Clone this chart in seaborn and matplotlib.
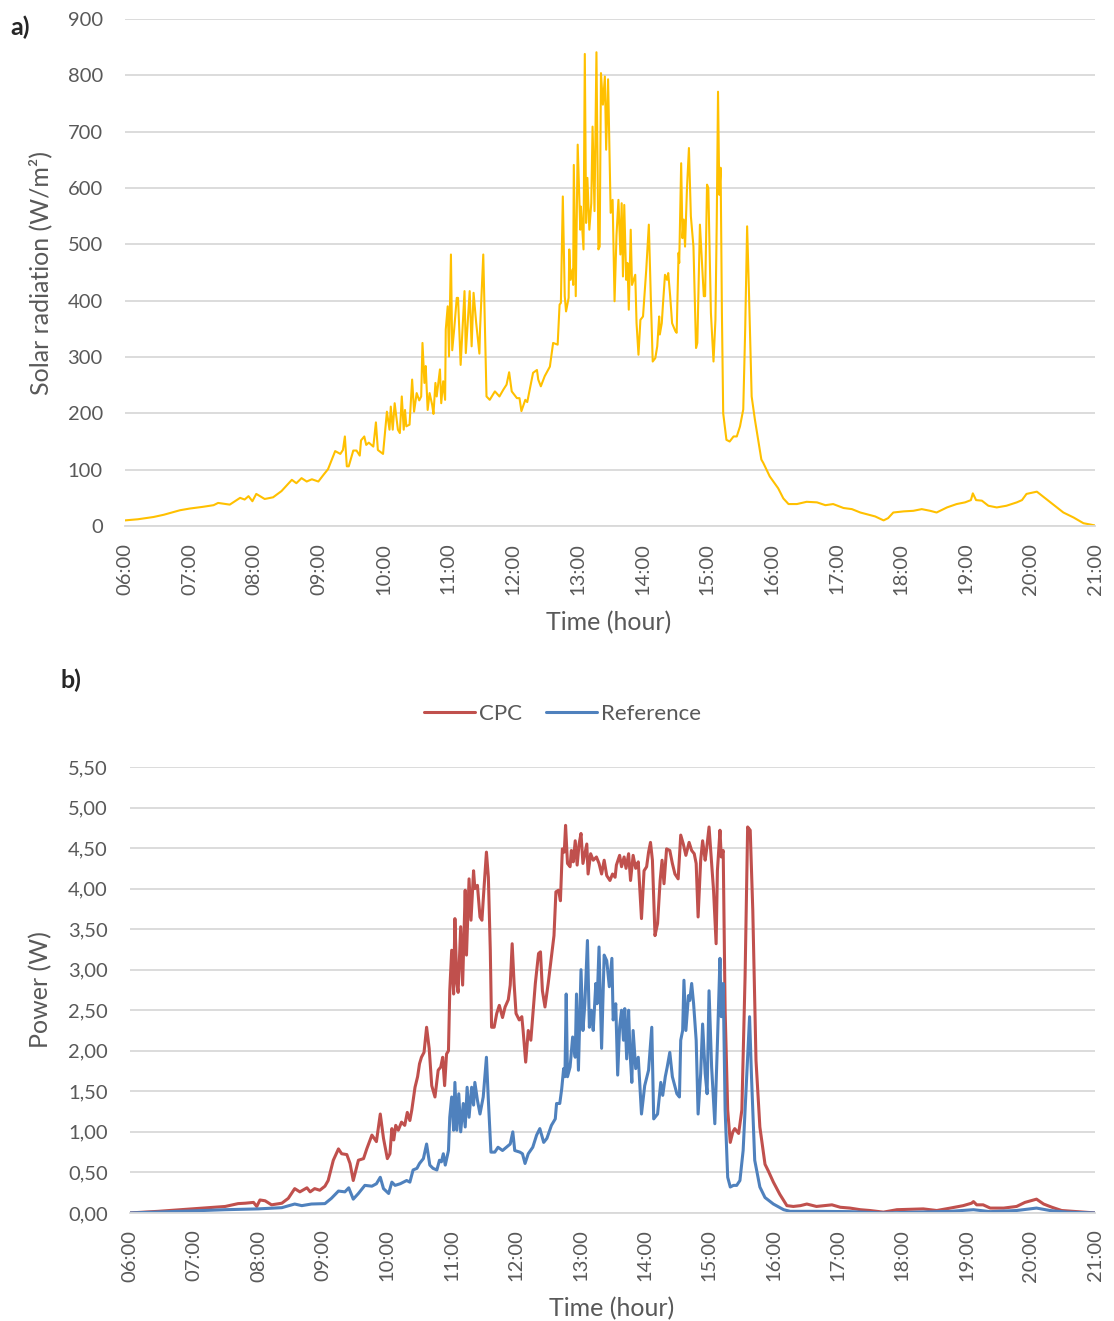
import numpy as np
import pandas as pd
import matplotlib
matplotlib.use("Agg")
import matplotlib.pyplot as plt
from matplotlib.ticker import FuncFormatter, MultipleLocator
import seaborn as sns

# a) solar radiation, hours since midnight vs W/m2
top_hours = [
    6.00, 6.20, 6.44, 6.60, 6.85, 7.00, 7.20, 7.37, 7.44, 7.62, 7.78, 7.85, 7.91, 7.97,
    8.03, 8.16, 8.29, 8.42, 8.58, 8.65, 8.73, 8.81, 8.89, 8.99, 9.07, 9.14, 9.25, 9.33,
    9.37, 9.40, 9.43, 9.46, 9.53, 9.58, 9.63, 9.65, 9.70, 9.73, 9.77, 9.84, 9.88, 9.91,
    9.99, 10.05, 10.09, 10.11, 10.14, 10.17, 10.22, 10.25, 10.28, 10.31, 10.33, 10.35,
    10.40, 10.44, 10.47, 10.51, 10.55, 10.58, 10.60, 10.63, 10.65, 10.68, 10.71, 10.75,
    10.77, 10.80, 10.82, 10.87, 10.89, 10.92, 10.95, 10.96, 10.99, 11.01, 11.04, 11.06,
    11.09, 11.13, 11.15, 11.19, 11.25, 11.27, 11.33, 11.36, 11.39, 11.43, 11.48, 11.49,
    11.54, 11.59, 11.64, 11.72, 11.79, 11.85, 11.90, 11.94, 11.98, 12.06, 12.10, 12.13,
    12.19, 12.22, 12.31, 12.37, 12.39, 12.43, 12.49, 12.57, 12.62, 12.69, 12.72, 12.74,
    12.77, 12.80, 12.82, 12.86, 12.87, 12.89, 12.92, 12.93, 12.94, 12.97, 13.00, 13.04,
    13.05, 13.09, 13.11, 13.13, 13.15, 13.18, 13.21, 13.23, 13.26, 13.29, 13.32, 13.34,
    13.36, 13.39, 13.42, 13.44, 13.47, 13.51, 13.54, 13.57, 13.60, 13.63, 13.66, 13.68,
    13.70, 13.72, 13.75, 13.77, 13.79, 13.82, 13.84, 13.89, 13.91, 13.94, 13.97, 14.01,
    14.06, 14.10, 14.13, 14.16, 14.20, 14.23, 14.26, 14.27, 14.30, 14.32, 14.35, 14.38,
    14.40, 14.43, 14.46, 14.51, 14.53, 14.56, 14.57, 14.60, 14.62, 14.64, 14.66, 14.69,
    14.72, 14.75, 14.79, 14.83, 14.85, 14.89, 14.92, 14.95, 14.97, 15.00, 15.02, 15.06,
    15.10, 15.13, 15.15, 15.17, 15.19, 15.21, 15.23, 15.25, 15.30, 15.35, 15.41, 15.46,
    15.51, 15.56, 15.59, 15.62, 15.65, 15.69, 15.74, 15.79, 15.84, 15.87, 15.97, 16.10,
    16.18, 16.26, 16.39, 16.54, 16.70, 16.83, 16.95, 17.11, 17.24, 17.37, 17.47, 17.60,
    17.73, 17.80, 17.88, 18.04, 18.19, 18.32, 18.45, 18.55, 18.71, 18.86, 18.99, 19.08,
    19.11, 19.16, 19.25, 19.35, 19.48, 19.63, 19.79, 19.87, 19.94, 20.10, 20.20, 20.30,
    20.38, 20.51, 20.67, 20.82, 21.00,
]
solar_wm2 = [
    10, 12, 16, 20, 28, 31, 34, 37, 41, 38, 50, 47, 53, 44,
    57, 48, 51, 62, 82, 76, 85, 79, 83, 79, 91, 101, 133, 128,
    135, 159, 106, 106, 134, 134, 125, 152, 159, 144, 148, 141, 184, 135,
    128, 203, 171, 212, 171, 218, 171, 165, 230, 171, 206, 177,
    180, 260, 203, 236, 223, 230, 325, 254, 284, 206, 236, 215,
    199, 254, 230, 278, 218, 257, 224, 349, 390, 301, 482, 312,
    349, 405, 405, 286, 417, 307, 417, 319, 414, 361, 306, 349,
    482, 230, 224, 239, 230, 242, 251, 273, 239, 227, 227, 204,
    224, 220, 272, 277, 260, 248, 266, 283, 325, 322, 393, 396,
    585, 408, 381, 405, 491, 437, 455, 428, 641, 408, 677, 526,
    567, 491, 838, 538, 618, 526, 573, 709, 559, 841, 491, 496,
    804, 748, 798, 668, 793, 556, 579, 399, 516, 579, 482, 573,
    443, 570, 437, 467, 384, 526, 428, 446, 360, 304, 366, 372,
    455, 535, 408, 292, 298, 319, 372, 340, 360, 396, 446, 437,
    449, 408, 360, 346, 343, 485, 467, 644, 511, 544, 496, 600,
    671, 550, 496, 316, 325, 535, 473, 408, 408, 606, 600, 378,
    292, 366, 538, 771, 588, 636, 378, 200, 153, 150, 159, 159,
    177, 207, 349, 532, 408, 230, 189, 153, 118, 112, 88, 67,
    49, 39, 39, 43, 42, 37, 39, 32, 30, 24, 21, 17,
    10, 14, 24, 26, 27, 30, 27, 24, 33, 39, 42, 46,
    58, 46, 45, 36, 33, 36, 42, 46, 57, 61, 52, 43,
    36, 24, 15, 5, 1,
]

# b) power of the two modules
cpc_hours = [
    6.00, 6.44, 6.96, 7.48, 7.68, 7.79, 7.92, 7.97, 8.02, 8.10, 8.20, 8.36, 8.46, 8.56,
    8.64, 8.75, 8.80, 8.87, 8.95, 9.03, 9.08, 9.16, 9.24, 9.29, 9.37, 9.42, 9.47, 9.55,
    9.63, 9.68, 9.76, 9.83, 9.89, 9.94, 10.00, 10.04, 10.07, 10.10, 10.13, 10.17, 10.22,
    10.27, 10.31, 10.35, 10.38, 10.43, 10.47, 10.50, 10.53, 10.57, 10.61, 10.65, 10.69,
    10.74, 10.79, 10.83, 10.86, 10.89, 10.92, 10.95, 10.97, 11.00, 11.03, 11.05, 11.08,
    11.10, 11.14, 11.17, 11.21, 11.23, 11.27, 11.30, 11.34, 11.36, 11.40, 11.44, 11.47,
    11.50, 11.54, 11.57, 11.60, 11.62, 11.66, 11.70, 11.74, 11.79, 11.83, 11.88, 11.91,
    11.94, 11.97, 12.00, 12.05, 12.09, 12.11, 12.15, 12.19, 12.23, 12.30, 12.35, 12.38,
    12.41, 12.45, 12.50, 12.55, 12.59, 12.62, 12.66, 12.69, 12.72, 12.75, 12.77, 12.80,
    12.84, 12.86, 12.89, 12.92, 12.95, 12.98, 13.01, 13.04, 13.07, 13.10, 13.12, 13.16,
    13.20, 13.25, 13.29, 13.33, 13.37, 13.41, 13.46, 13.50, 13.54, 13.56, 13.61, 13.64,
    13.68, 13.71, 13.75, 13.78, 13.82, 13.86, 13.90, 13.95, 13.99, 14.03, 14.06, 14.09,
    14.12, 14.16, 14.20, 14.24, 14.27, 14.30, 14.34, 14.39, 14.43, 14.47, 14.52, 14.56,
    14.60, 14.64, 14.69, 14.73, 14.77, 14.80, 14.83, 14.87, 14.90, 14.94, 14.96, 15.00,
    15.03, 15.07, 15.11, 15.13, 15.17, 15.19, 15.22, 15.25, 15.29, 15.33, 15.37, 15.40,
    15.46, 15.51, 15.56, 15.60, 15.64, 15.68, 15.73, 15.79, 15.87, 15.92, 16.00, 16.10,
    16.21, 16.31, 16.42, 16.52, 16.67, 16.91, 17.04, 17.19, 17.35, 17.50, 17.71, 17.92,
    18.12, 18.33, 18.54, 18.75, 18.95, 19.08, 19.11, 19.16, 19.26, 19.37, 19.58, 19.78,
    19.91, 20.09, 20.20, 20.33, 20.48, 20.72, 21.00,
]
cpc_w = [
    0.00, 0.02, 0.05, 0.08, 0.115, 0.12, 0.13, 0.08, 0.16, 0.15, 0.10, 0.12, 0.18, 0.30,
    0.26, 0.31, 0.26, 0.30, 0.28, 0.33, 0.40, 0.65, 0.79, 0.73, 0.72, 0.61, 0.40, 0.65,
    0.67, 0.79, 0.96, 0.88, 1.22, 0.92, 0.67, 0.73, 1.04, 0.90, 1.08, 1.02, 1.12,
    1.08, 1.24, 1.14, 1.27, 1.55, 1.68, 1.84, 1.92, 1.98, 2.29, 2.03, 1.57,
    1.43, 1.76, 1.80, 1.92, 1.57, 1.96, 2.00, 2.74, 3.24, 2.70, 3.63, 2.83,
    2.72, 3.53, 2.81, 3.98, 3.18, 4.12, 3.61, 4.22, 4.00, 4.04, 3.65, 3.61,
    3.98, 4.45, 4.14, 3.24, 2.29, 2.29, 2.46, 2.56, 2.41, 2.54, 2.63, 2.81,
    3.32, 2.83, 2.46, 2.38, 2.42, 2.25, 1.86, 2.25, 2.13, 2.83, 3.20, 3.22,
    2.74, 2.54, 2.83, 3.16, 3.42, 3.96, 3.98, 3.85, 4.49, 4.45, 4.78, 4.31,
    4.27, 4.47, 4.33, 4.59, 4.29, 4.55, 4.68, 4.31, 4.43, 4.55, 4.18, 4.43,
    4.35, 4.39, 4.31, 4.18, 4.35, 4.16, 4.10, 4.18, 4.14, 4.29, 4.41, 4.27,
    4.39, 4.25, 4.43, 4.10, 4.41, 4.25, 4.33, 3.63, 4.22, 4.27, 4.45, 4.57,
    4.35, 3.42, 3.57, 4.10, 4.35, 4.06, 4.49, 4.47, 4.31, 4.18, 4.12, 4.66,
    4.55, 4.41, 4.57, 4.47, 4.43, 4.31, 3.65, 4.35, 4.59, 4.35, 4.47, 4.76,
    4.43, 3.98, 3.32, 4.22, 4.72, 4.39, 4.47, 2.50, 1.27, 0.87, 1.00, 1.04,
    0.98, 1.27, 2.91, 4.76, 4.72, 3.73, 1.88, 1.06, 0.60, 0.52, 0.38, 0.23,
    0.09, 0.08, 0.09, 0.11, 0.08, 0.10, 0.07, 0.06, 0.04, 0.03, 0.01, 0.04,
    0.045, 0.05, 0.03, 0.06, 0.09, 0.12, 0.14, 0.10, 0.10, 0.06, 0.06, 0.08,
    0.13, 0.17, 0.11, 0.07, 0.03, 0.016, 0.00,
]

ref_hours = [
    6.00, 6.96, 7.48, 7.99, 8.36, 8.56, 8.67, 8.82, 9.03, 9.13, 9.24, 9.34, 9.40, 9.47,
    9.55, 9.65, 9.76, 9.83, 9.89, 9.94, 10.02, 10.07, 10.12, 10.20, 10.30, 10.35, 10.40,
    10.46, 10.50, 10.56, 10.61, 10.66, 10.71, 10.77, 10.81, 10.84, 10.87, 10.90, 10.95,
    10.97, 11.00, 11.03, 11.05, 11.08, 11.11, 11.14, 11.18, 11.21, 11.24, 11.27, 11.31,
    11.34, 11.36, 11.40, 11.44, 11.49, 11.54, 11.57, 11.61, 11.67, 11.72, 11.79, 11.85,
    11.91, 11.95, 11.98, 12.06, 12.10, 12.14, 12.19, 12.26, 12.32, 12.37, 12.43, 12.48,
    12.55, 12.61, 12.63, 12.68, 12.71, 12.74, 12.76, 12.78, 12.80, 12.84, 12.88, 12.92,
    12.94, 12.97, 13.01, 13.04, 13.07, 13.11, 13.14, 13.17, 13.20, 13.24, 13.26, 13.29,
    13.33, 13.37, 13.41, 13.45, 13.49, 13.51, 13.55, 13.58, 13.61, 13.64, 13.67, 13.69,
    13.72, 13.75, 13.77, 13.80, 13.82, 13.86, 13.90, 13.95, 14.00, 14.06, 14.11, 14.14,
    14.20, 14.25, 14.28, 14.32, 14.35, 14.39, 14.43, 14.50, 14.54, 14.56, 14.59, 14.61,
    14.64, 14.68, 14.70, 14.73, 14.76, 14.80, 14.83, 14.87, 14.90, 14.94, 14.97, 15.00,
    15.04, 15.09, 15.13, 15.17, 15.19, 15.22, 15.25, 15.29, 15.33, 15.38, 15.43, 15.48,
    15.53, 15.59, 15.63, 15.66, 15.71, 15.79, 15.87, 16.00, 16.16, 16.26, 16.67, 17.19,
    17.71, 18.23, 18.75, 19.11, 19.37, 19.78, 20.09, 20.30, 20.56, 21.00,
]
ref_w = [
    0.00, 0.025, 0.04, 0.05, 0.065, 0.11, 0.09, 0.11, 0.115, 0.18, 0.27, 0.26, 0.31, 0.17,
    0.24, 0.34, 0.33, 0.36, 0.44, 0.30, 0.24, 0.38, 0.34, 0.36, 0.40, 0.38, 0.53,
    0.55, 0.61, 0.67, 0.85, 0.59, 0.55, 0.53, 0.65, 0.63, 0.73, 0.59, 0.77,
    1.18, 1.43, 1.02, 1.61, 1.02, 1.47, 1.00, 1.35, 1.06, 1.55, 1.18, 1.55,
    1.33, 1.61, 1.39, 1.22, 1.43, 1.92, 1.39, 0.75, 0.75, 0.81, 0.77, 0.81,
    0.85, 1.00, 0.77, 0.75, 0.73, 0.61, 0.73, 0.81, 0.96, 1.04, 0.87, 0.92,
    1.08, 1.16, 1.35, 1.35, 1.53, 1.78, 1.68, 2.70, 1.68, 1.80, 2.17, 1.92,
    2.70, 1.76, 3.00, 2.25, 2.58, 3.36, 2.29, 2.50, 2.25, 2.83, 2.58, 3.28,
    2.03, 3.18, 3.11, 2.79, 3.14, 2.38, 2.58, 1.70, 2.29, 2.50, 2.13, 2.52,
    1.90, 2.50, 2.01, 1.61, 2.25, 1.78, 1.92, 1.22, 1.57, 1.76, 2.29, 1.16,
    1.22, 1.61, 1.45, 1.68, 1.80, 1.98, 1.68, 1.47, 1.43, 2.13, 2.25, 2.87,
    2.25, 2.68, 2.62, 2.83, 2.58, 2.13, 1.22, 1.72, 2.33, 1.72, 1.47, 2.74,
    1.80, 1.10, 2.09, 3.14, 2.42, 2.83, 1.27, 0.44, 0.32, 0.34, 0.34, 0.40,
    0.77, 1.76, 2.42, 1.68, 0.65, 0.32, 0.19, 0.11, 0.04, 0.02, 0.02, 0.016,
    0.00, 0.01, 0.02, 0.04, 0.016, 0.03, 0.06, 0.03, 0.01, 0.00,
]

hour_ticks = list(range(6, 22))
hour_labels = [f"{h:02d}:00" for h in hour_ticks]

sns.set_style("white")
plt.rcParams['font.family'] = ['Lato', 'DejaVu Sans']

GRID = "#D9D9D9"
TXT = "#595959"

solar = pd.DataFrame({"hour": top_hours, "radiation": solar_wm2})
power = pd.concat([
    pd.DataFrame({"hour": cpc_hours, "power": cpc_w, "module": "CPC"}),
    pd.DataFrame({"hour": ref_hours, "power": ref_w, "module": "Reference"}),
], ignore_index=True)

fig = plt.figure(figsize=(11.14, 13.21), dpi=100)
ax1 = fig.add_axes([0.1122, 0.6018, 0.8708, 0.3838])
ax2 = fig.add_axes([0.1167, 0.0818, 0.8663, 0.3376])

sns.lineplot(data=solar, x="hour", y="radiation", ax=ax1, color="#FFC000",
             linewidth=1.5, estimator=None, sort=False)
sns.lineplot(data=power, x="hour", y="power", hue="module", ax=ax2,
             palette={"CPC": "#C0504D", "Reference": "#4F81BD"},
             linewidth=2.2, estimator=None, sort=False)

for ax in (ax1, ax2):
    ax.set_xlim(6, 21)
    ax.set_xticks(hour_ticks)
    ax.set_xticklabels(hour_labels, rotation=90)
    ax.tick_params(axis="both", length=0, labelsize=14.5, colors=TXT)
    ax.tick_params(axis="x", pad=12)
    ax.tick_params(axis="y", pad=16)
    ax.grid(axis="y", color=GRID, linewidth=1.3)
    ax.set_axisbelow(True)
    for s in ("top", "right", "left"):
        ax.spines[s].set_visible(False)
    ax.spines["bottom"].set_color(GRID)
    ax.spines["bottom"].set_linewidth(1.3)
    ax.set_xlabel("Time (hour)", fontsize=18, color=TXT)

ax1.set_ylim(0, 900)
ax1.yaxis.set_major_locator(MultipleLocator(100))
ax1.set_ylabel("Solar radiation (W/m²)", fontsize=18, color=TXT)
ax1.yaxis.set_label_coords(-0.0753, 0.5)
ax1.xaxis.set_label_coords(0.499, -0.168)

ax2.set_ylim(0, 5.5)
ax2.yaxis.set_major_locator(MultipleLocator(0.5))
ax2.yaxis.set_major_formatter(FuncFormatter(lambda v, p: f"{v:.2f}".replace(".", ",")))
ax2.set_ylabel("Power (W)", fontsize=18, color=TXT)
ax2.yaxis.set_label_coords(-0.0808, 0.5)
ax2.xaxis.set_label_coords(0.4995, -0.188)

handles, labels = ax2.get_legend_handles_labels()
ax2.legend(handles, labels, loc="center", bbox_to_anchor=(0.448, 1.119), ncol=2,
           frameon=False, fontsize=16, handlelength=2.3, handletextpad=0.2,
           columnspacing=1.05, labelcolor=TXT)

fig.text(0.009, 0.9795, "a)", fontsize=18, fontweight="bold", va="center")
fig.text(0.054, 0.485, "b)", fontsize=18, fontweight="bold", va="center")

plt.savefig("out.png", dpi=100)
